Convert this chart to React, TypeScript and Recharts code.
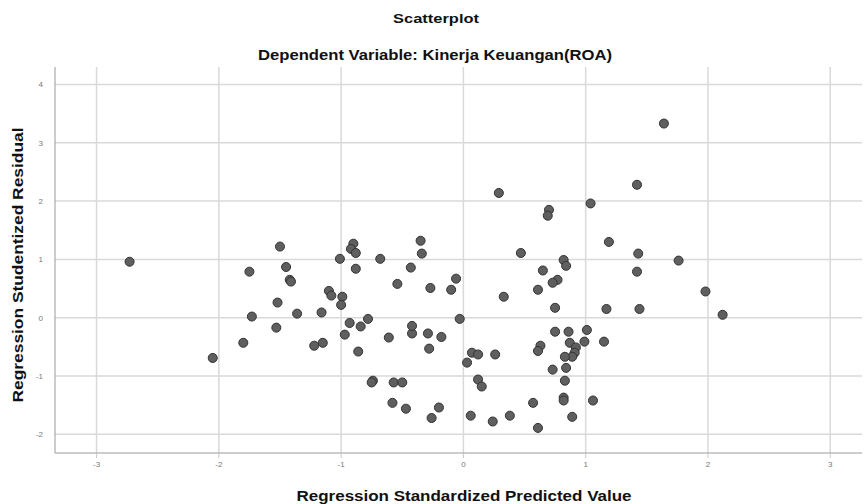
import React from "react";
import { ScatterChart, Scatter, XAxis, YAxis, ZAxis, CartesianGrid } from "recharts";

const predicted: number[] = [
  -2.73, -2.05, -1.80, -1.75, -1.73, -1.50, -1.45, -1.42, -1.41, -1.52,
  -1.53, -1.36, -1.16, -1.10, -1.08, -0.99, -1.00, -1.01, -0.90, -0.92,
  -0.88, -0.88, -0.68, -0.54, -0.93, -0.84, -0.78, -0.97, -1.22, -1.15,
  -0.86, -0.61, -0.42, -0.29, -0.18, -0.28, 0.07, 0.12, 0.26, 0.03,
  -0.74, -0.75, -0.57, -0.50, -0.58, -0.47, -0.20, -0.26, 0.12, 0.15,
  0.06, 0.24, 0.29, 1.04, 0.70, 0.69, 1.19, -0.35, -0.34, -0.43,
  -0.27, -0.06, -0.10, 0.47, 0.82, 0.84, 0.65, 0.77, 0.73, 0.61,
  0.33, 0.75, 1.17, -0.03, -0.42, 0.75, 0.86, 1.01, 0.99, 1.15,
  0.63, 0.61, 0.87, 0.92, 0.91, 0.89, 0.83, 0.73, 0.84, 0.83,
  0.82, 0.82, 1.06, 0.57, 0.38, 0.61, 0.89, 1.64, 1.42, 1.43,
  1.76, 1.42, 1.98, 2.12, 1.44,
];

const residual: number[] = [
  0.96, -0.69, -0.43, 0.79, 0.02, 1.22, 0.87, 0.65, 0.62, 0.26,
  -0.17, 0.07, 0.09, 0.46, 0.38, 0.36, 0.22, 1.01, 1.27, 1.18,
  1.11, 0.84, 1.01, 0.58, -0.09, -0.15, -0.02, -0.29, -0.48, -0.43,
  -0.58, -0.34, -0.27, -0.27, -0.33, -0.53, -0.60, -0.63, -0.63, -0.77,
  -1.08, -1.11, -1.11, -1.11, -1.46, -1.56, -1.54, -1.72, -1.06, -1.18,
  -1.68, -1.78, 2.14, 1.96, 1.85, 1.75, 1.30, 1.32, 1.10, 0.86,
  0.51, 0.67, 0.48, 1.11, 0.99, 0.89, 0.81, 0.65, 0.60, 0.48,
  0.36, 0.17, 0.15, -0.02, -0.14, -0.24, -0.24, -0.21, -0.41, -0.41,
  -0.48, -0.57, -0.43, -0.51, -0.60, -0.67, -0.67, -0.89, -0.86, -1.08,
  -1.37, -1.42, -1.42, -1.46, -1.68, -1.89, -1.70, 3.33, 2.28, 1.10,
  0.98, 0.79, 0.45, 0.05, 0.15,
];

const xTicks: number[] = [-3, -2, -1, 0, 1, 2, 3];
const yTicks: number[] = [-2, -1, 0, 1, 2, 3, 4];

const title = "Scatterplot";
const subtitle = "Dependent Variable: Kinerja Keuangan(ROA)";
const xLabel = "Regression Standardized Predicted Value";
const yLabel = "Regression Studentized Residual";

const data = predicted.map((x, i) => ({ x, y: residual[i] }));

const FONT = "'Liberation Sans', Arial, sans-serif";

export default function App() {
  return (
    <div style={{ position: "absolute", left: 0, top: 0, width: 864, height: 504, background: "#fff" }}>
      <ScatterChart width={864} height={504} margin={{ top: 67, right: 2, bottom: 21, left: 0 }}>
        <CartesianGrid stroke="#d9d9d9" strokeWidth={1.5} horizontalValues={yTicks} verticalValues={xTicks} />
        <XAxis
          type="number"
          dataKey="x"
          height={30}
          domain={[-3.34, 3.26]}
          ticks={xTicks}
          allowDataOverflow
          stroke="#9a9a9a"
          tickLine={{ stroke: "#c8c8c8" }}
          tickSize={5}
          tickMargin={3}
          tick={{ fill: "#777", fontSize: 8, fontFamily: FONT }}
        />
        <YAxis
          type="number"
          dataKey="y"
          width={55}
          domain={[-2.32, 4.3]}
          ticks={yTicks}
          allowDataOverflow
          stroke="#9a9a9a"
          tickLine={false}
          tickMargin={6}
          tick={{ fill: "#777", fontSize: 8, fontFamily: FONT }}
        />
        <ZAxis range={[70, 70]} />
        <Scatter
          data={data}
          fill="#5f5f5f"
          stroke="#333"
          strokeWidth={1}
          isAnimationActive={false}
        />
        <text x={436} y={23} textAnchor="middle" fontFamily={FONT} fontWeight="bold" fontSize={13} fill="#111"
          textLength={86} lengthAdjust="spacingAndGlyphs">
          {title}
        </text>
        <text x={435} y={60} textAnchor="middle" fontFamily={FONT} fontWeight="bold" fontSize={14} fill="#111"
          textLength={354} lengthAdjust="spacingAndGlyphs">
          {subtitle}
        </text>
        <text x={464} y={501} textAnchor="middle" fontFamily={FONT} fontWeight="bold" fontSize={14} fill="#111"
          textLength={335} lengthAdjust="spacingAndGlyphs">
          {xLabel}
        </text>
        <text
          x={23}
          y={265}
          textAnchor="middle"
          fontFamily={FONT}
          fontWeight="bold"
          fontSize={14}
          fill="#111"
          textLength={275}
          lengthAdjust="spacingAndGlyphs"
          transform="rotate(-90 23 265)"
        >
          {yLabel}
        </text>
      </ScatterChart>
    </div>
  );
}
